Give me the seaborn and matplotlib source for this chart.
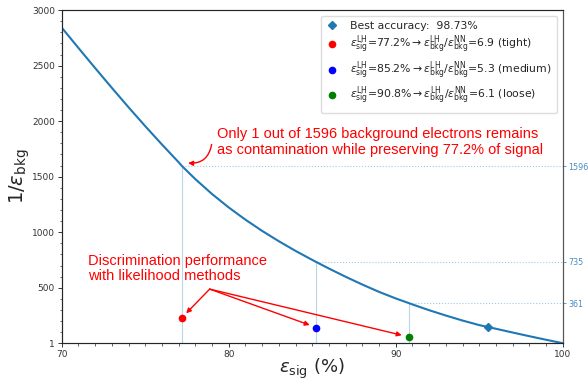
import numpy as np
import pandas as pd
import matplotlib
matplotlib.use('Agg')
import matplotlib.pyplot as plt
import seaborn as sns
from matplotlib.ticker import MultipleLocator

# ROC-like curve: signal efficiency (%) vs background rejection 1/eps_bkg
eff_sig = [70, 71, 72, 73, 74, 75, 76, 77, 77.2, 78, 79, 80, 81, 82, 83, 84, 85,
           85.2, 86, 87, 88, 89, 90, 90.8, 91, 92, 93, 94, 95, 95.5, 96, 97, 98, 99, 100]
rej_bkg = [2842, 2659, 2478, 2300, 2125, 1955, 1790, 1630, 1596, 1478, 1344, 1223, 1113,
           1012, 919, 832, 751, 735, 673, 599, 529, 463, 404, 361, 350, 298, 250, 205,
           164, 147, 131, 97, 64, 32, 1]

# working points of the NN matched to the likelihood cuts
wp_eff = [77.2, 85.2, 90.8]
wp_rej = [1596, 735, 361]

# likelihood methods
lh_eff = [77.2, 85.2, 90.8]
lh_rej = [231, 139, 59]
lh_ratio = [6.9, 5.3, 6.1]
lh_name = ['tight', 'medium', 'loose']
lh_col = ['red', 'blue', 'green']

best_eff = 95.5
best_rej = 147
best_acc = 98.73

sns.set_style('ticks')
fig = plt.figure(figsize=(5.88, 3.82), dpi=100)
ax = fig.add_axes([0.105, 0.1016, 0.852, 0.872])

df = pd.DataFrame({'eff': eff_sig, 'rej': rej_bkg})
sns.lineplot(data=df, x='eff', y='rej', ax=ax, color='#1f77b4', lw=1.5, zorder=3)

ax.plot([best_eff], [best_rej], 'D', color='#1f77b4', ms=4.5, zorder=4,
        label=f'Best accuracy:  {best_acc}%')
for e, r, q, n, c in zip(lh_eff, lh_rej, lh_ratio, lh_name, lh_col):
    lab = (r'$\epsilon_{\rm sig}^{\rm LH}$=' + f'{e}%' + r'$\rightarrow\epsilon_{\rm bkg}^{\rm LH}/\epsilon_{\rm bkg}^{\rm NN}$='
           + f'{q} ({n})')
    ax.plot([e], [r], 'o', color=c, ms=4.5, zorder=4, label=lab)

# guide lines to the working points
for e, r in zip(wp_eff, wp_rej):
    ax.plot([e, e], [1, r], color='#1f77b4', alpha=0.3, lw=0.8, zorder=1)
    ax.plot([e, 100], [r, r], color='#1f77b4', alpha=0.4, lw=0.8, ls=':', zorder=1)

ax.set_xlim(70, 100)
ax.set_ylim(1, 3000)
ax.set_xticks([70, 80, 90, 100])
ax.set_yticks([1, 500, 1000, 1500, 2000, 2500, 3000])
ax.xaxis.set_minor_locator(MultipleLocator(1))
ax.yaxis.set_minor_locator(MultipleLocator(100))
ax.tick_params(labelsize=6.5, length=3, width=0.7, colors='#333333', pad=2)
ax.tick_params(which='minor', length=1.8, width=0.5)
ax.set_xlabel(r'$\epsilon_{\rm sig}$ (%)', fontsize=13, labelpad=-2)
ax.set_ylabel(r'$1/\epsilon_{\rm bkg}$', fontsize=14, labelpad=0)
for s in ax.spines.values():
    s.set_color('#555555')
    s.set_linewidth(0.8)

ax2 = ax.twinx()
ax2.set_ylim(1, 3000)
ax2.set_yticks(wp_rej)
ax2.set_yticklabels([str(v) for v in wp_rej])
ax2.tick_params(labelsize=5.8, length=2.5, width=0.6, colors='#4a8cc4', pad=1.5)
ax2.spines['right'].set_color('#555555')

leg = ax.legend(loc='upper right', fontsize=7.8, handlelength=1.0, handletextpad=1.2,
                borderpad=0.5, labelspacing=0.3, framealpha=1, edgecolor='#dddddd')
leg.set_zorder(5)

txt = dict(color='red', family='Liberation Sans', fontsize=10.5)
ax.text(79.3, 1812, 'Only 1 out of 1596 background electrons remains\n'
        'as contamination while preserving 77.2% of signal', ha='left', va='center',
        linespacing=1.1, **txt)
ax.annotate('', xy=(77.4, 1625), xytext=(79.0, 1815),
            arrowprops=dict(arrowstyle='-|>', color='red', lw=1, mutation_scale=7,
                            connectionstyle='arc3,rad=-0.5'))

ax.text(71.6, 677, 'Discrimination performance\nwith likelihood methods', ha='left',
        va='center', linespacing=1.1, **txt)
for (ex, ey) in [(77.45, 270), (84.85, 164), (90.36, 73)]:
    ax.annotate('', xy=(ex, ey), xytext=(78.86, 488),
                arrowprops=dict(arrowstyle='-|>', color='red', lw=1, mutation_scale=7,
                                shrinkA=0, shrinkB=0))

fig.savefig('out.png', dpi=100)
